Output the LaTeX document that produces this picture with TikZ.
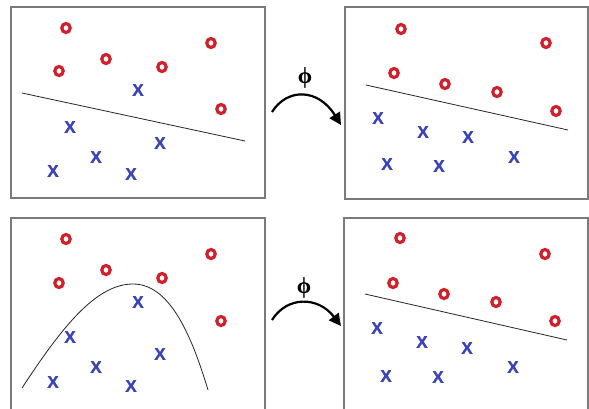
\documentclass[tikz,border=0pt]{standalone}
\usepackage{fontspec}
\setmainfont{Liberation Serif}
\setsansfont{Liberation Sans}
\newfontfamily\xmarkfont[FakeBold=1.2]{Liberation Sans Bold}
\usetikzlibrary{shapes.geometric,arrows.meta}
\definecolor{ored}{HTML}{D0202C}
\definecolor{xblue}{HTML}{3A44B8}
\definecolor{boxgray}{HTML}{7A7A7A}
\tikzset{
  panel/.style={draw=boxgray,line width=1.1pt},
  omark/.style={ellipse,draw=ored,line width=3.2pt,minimum width=8.4pt,minimum height=9pt,inner sep=0pt},
  xmark/.style={text=xblue,font=\xmarkfont\fontsize{17}{17}\selectfont,inner sep=0pt},
  sep/.style={draw=black!85,line width=0.8pt},
  phiarrow/.style={draw=black,line width=2.2pt,-{Triangle[length=12pt,width=12pt]}},
  philabel/.style={font=\bfseries\fontsize{23}{23}\selectfont,inner sep=0pt}
}
\begin{document}
\begin{tikzpicture}[x=1pt,y=-1pt]
\useasboundingbox (0,0) rectangle (589,408);
\clip (0,0) rectangle (589,408);
\fill[white] (0,0) rectangle (589,408);
% panels
\draw[panel] (11,7) rectangle (265,198);
\draw[panel] (345,7) rectangle (588,199);
\draw[panel] (11,218) rectangle (265,412);
\draw[panel] (344,218) rectangle (588,412);
% ---- top-left
\coordinate (tlA) at (22,93);
\coordinate (tlB) at (245,141);
\draw[sep] (tlA) -- (tlB);
\node[omark] (tlo1) at (66,28) {};
\node[omark] (tlo2) at (211,43) {};
\node[omark] (tlo3) at (106,59) {};
\node[omark] (tlo4) at (59,71) {};
\node[omark] (tlo5) at (162,67) {};
\node[omark] (tlo6) at (221,109) {};
\node[xmark] (tlx1) at (138,90) {X};
\node[xmark] (tlx2) at (70,127) {X};
\node[xmark] (tlx3) at (160,143) {X};
\node[xmark] (tlx4) at (96,157) {X};
\node[xmark] (tlx5) at (53,171) {X};
\node[xmark] (tlx6) at (131,174) {X};
% ---- top-right
\coordinate (trA) at (366,85);
\coordinate (trB) at (568,130);
\draw[sep] (trA) -- (trB);
\node[omark] (tro1) at (401,29) {};
\node[omark] (tro2) at (546,43) {};
\node[omark] (tro3) at (394,73) {};
\node[omark] (tro4) at (445,84) {};
\node[omark] (tro5) at (497,92) {};
\node[omark] (tro6) at (556,111) {};
\node[xmark] (trx1) at (378,118) {X};
\node[xmark] (trx2) at (423,132) {X};
\node[xmark] (trx3) at (468,137) {X};
\node[xmark] (trx4) at (387,164) {X};
\node[xmark] (trx5) at (439,166) {X};
\node[xmark] (trx6) at (514,157) {X};
% ---- bottom-left
\coordinate (blA) at (22,388);
\coordinate (blP) at (133,284);
\coordinate (blB) at (208,390);
\draw[sep] (blA) .. controls (62,327) and (96,284) .. (blP)
                .. controls (168,284) and (190,330) .. (blB);
\node[omark] (blo1) at (66,239) {};
\node[omark] (blo2) at (211,254) {};
\node[omark] (blo3) at (106,270) {};
\node[omark] (blo4) at (59,283) {};
\node[omark] (blo5) at (162,278) {};
\node[omark] (blo6) at (221,321) {};
\node[xmark] (blx1) at (138,302) {X};
\node[xmark] (blx2) at (70,337) {X};
\node[xmark] (blx3) at (160,354) {X};
\node[xmark] (blx4) at (96,367) {X};
\node[xmark] (blx5) at (53,382) {X};
\node[xmark] (blx6) at (131,386) {X};
% ---- bottom-right
\coordinate (brA) at (365,294);
\coordinate (brB) at (567,340);
\draw[sep] (brA) -- (brB);
\node[omark] (bro1) at (400,238) {};
\node[omark] (bro2) at (545,254) {};
\node[omark] (bro3) at (393,283) {};
\node[omark] (bro4) at (444,294) {};
\node[omark] (bro5) at (496,302) {};
\node[omark] (bro6) at (555,321) {};
\node[xmark] (brx1) at (377,328) {X};
\node[xmark] (brx2) at (422,342) {X};
\node[xmark] (brx3) at (467,348) {X};
\node[xmark] (brx4) at (386,376) {X};
\node[xmark] (brx5) at (438,377) {X};
\node[xmark] (brx6) at (513,367) {X};
% ---- arrows
\node[philabel] (phiT) at (305,78) {ϕ};
\coordinate (aTs) at (272,112);
\coordinate (aTe) at (341,125);
\draw[phiarrow] (aTs) .. controls (287,88) and (318,88) .. (aTe);
\node[philabel] (phiB) at (304,288) {ϕ};
\coordinate (aBs) at (272,320);
\coordinate (aBe) at (341,326);
\draw[phiarrow] (aBs) .. controls (287,296) and (318,296) .. (aBe);
\end{tikzpicture}
\end{document}
